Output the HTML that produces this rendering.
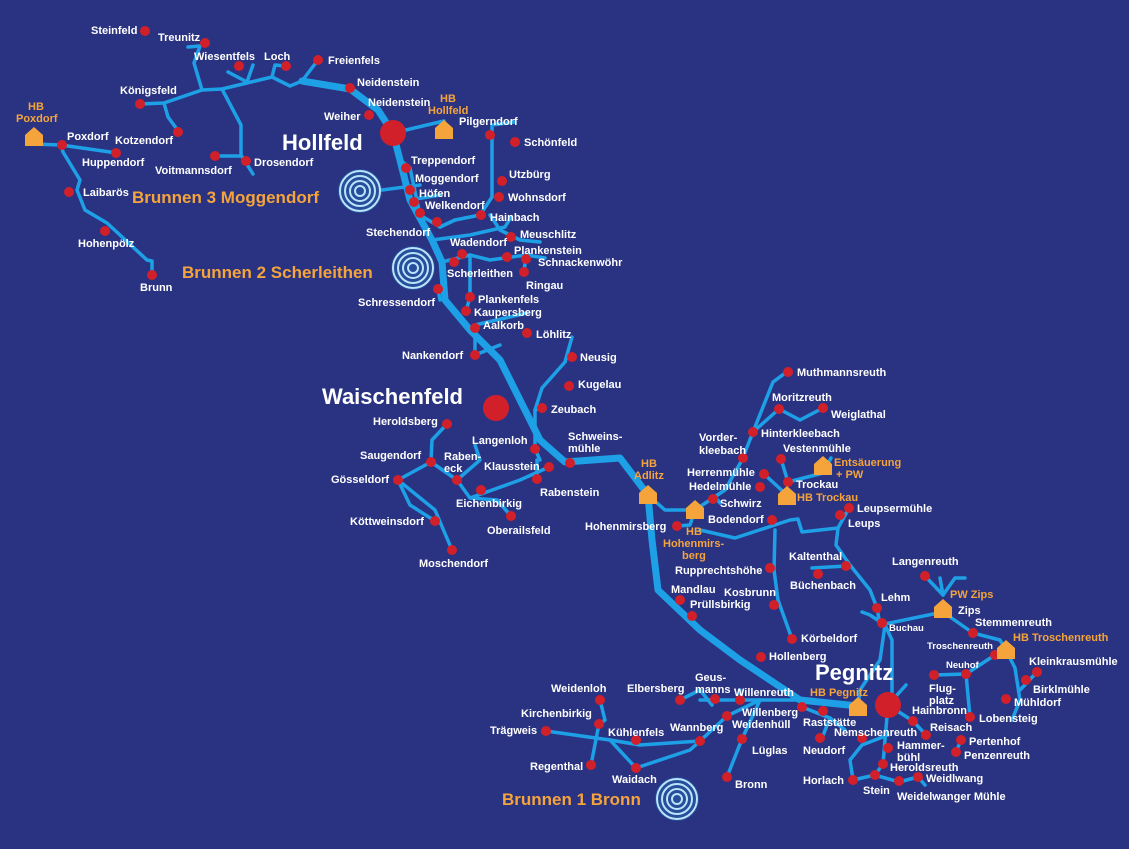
<!DOCTYPE html>
<html><head><meta charset="utf-8"><style>
html,body{margin:0;padding:0;background:#2a3382;}
svg{display:block}
.t{font-family:"Liberation Sans",sans-serif;font-weight:bold;font-size:11px;fill:#fff}
.s{font-size:9.5px}
.o{fill:#f5a43c}
.big{font-size:22px}
.br{font-size:17px;fill:#f5a43c}
.l{fill:none;stroke:#1ea0e6;stroke-width:3.5;stroke-linejoin:round;stroke-linecap:round}
.m{fill:none;stroke:#1ea0e6;stroke-width:7;stroke-linejoin:round;stroke-linecap:round}
circle.d{fill:#d2202a}
</style></head><body>
<svg width="1129" height="849" viewBox="0 0 1129 849" xmlns="http://www.w3.org/2000/svg">
<rect width="1129" height="849" fill="#2a3382"/>
<defs>
<g id="hs"><path d="M-9,-2 L0,-10 L9,-2 L9,9 L-9,9Z" fill="#f5a43c"/></g>
<g id="tg"><circle r="22" fill="#1ea0e6" opacity=".25"/><circle r="20" fill="none" stroke="#b9e4fa" stroke-width="2"/><circle r="15" fill="none" stroke="#b9e4fa" stroke-width="2"/><circle r="10" fill="none" stroke="#b9e4fa" stroke-width="2"/><circle r="5" fill="none" stroke="#b9e4fa" stroke-width="2"/></g>
</defs>
<!-- main trunk -->
<polyline class="m" points="302,81 350,89 378,110 393,133 400,160 410,200 432,240 442,262 445,300 470,330 500,360 520,400 540,440 565,462 620,458 648,495 652,540 658,590 700,630 740,660 800,700 858,706"/>
<!-- NW network -->
<polyline class="l" points="33,144 61,145 117,153"/>
<polyline class="l" points="61,145 63,152 80,180 77,190 85,210 107,223 147,260 152,261 152,275"/>
<polyline class="l" points="140,104 164,103 202,90 222,89 272,77 290,86 302,81 318,60"/>
<polyline class="l" points="164,103 168,117 179,132"/>
<polyline class="l" points="202,90 194,63 200,46 188,47"/>
<polyline class="l" points="222,89 241,125 241,155 253,174"/>
<polyline class="l" points="215,156 241,156"/>
<polyline class="l" points="228,72 247,82 253,65"/>
<polyline class="l" points="272,77 275,65 286,66"/>
<polyline class="l" points="393,133 444,121"/>
<polyline class="l" points="515,122 492,125 492,197 480,215 455,220 440,227"/>
<polyline class="l" points="400,160 410,168 420,215 440,227 455,220"/>
<polyline class="l" points="382,190 420,185"/>
<polyline class="l" points="410,200 440,195"/>
<polyline class="l" points="432,240 470,235 505,227 511,217"/>
<polyline class="l" points="490,215 500,230 520,240 540,242"/>
<polyline class="l" points="442,262 470,255 490,260 526,255 545,258"/>
<polyline class="l" points="470,255 470,297 466,311"/>
<polyline class="l" points="526,255 524,272"/>
<polyline class="l" points="475,325 527,313"/>
<polyline class="l" points="475,335 475,355 500,345"/>
<polyline class="l" points="440,300 438,289"/>
<!-- Waischenfeld area -->
<polyline class="l" points="572,337 565,362 542,388 535,410 535,449 540,460"/>
<polyline class="l" points="535,410 542,408"/>
<polyline class="l" points="447,424 432,440 431,462 398,480 435,510 452,550"/>
<polyline class="l" points="431,462 457,480 470,498 497,500 511,516"/>
<polyline class="l" points="457,480 480,460 475,445"/>
<polyline class="l" points="470,498 520,480 549,467"/>
<polyline class="l" points="537,479 537,460"/>
<polyline class="l" points="398,480 410,505 435,521"/>
<!-- Adlitz / Trockau -->
<polyline class="l" points="648,495 665,510 695,510 690,525 677,526"/>
<polyline class="l" points="695,510 725,490 742,460 753,432 773,382 788,371"/>
<polyline class="l" points="753,432 779,409 800,420 823,408"/>
<polyline class="l" points="700,530 735,538 790,520 798,519 802,532 838,528 849,508"/>
<polyline class="l" points="715,497 720,503"/>
<polyline class="l" points="764,474 788,496"/>
<polyline class="l" points="781,459 788,482 823,473 831,458"/>
<polyline class="l" points="775,530 774,570 778,600 792,639"/>
<polyline class="l" points="838,528 836,545 850,565 870,590 877,608 880,625"/>
<polyline class="l" points="812,568 846,566"/>
<polyline class="l" points="880,625 943,612"/>
<polyline class="l" points="925,576 943,595 955,578 965,578"/>
<polyline class="l" points="943,595 940,578"/>
<polyline class="l" points="943,612 973,633 1000,640 1006,650"/>
<polyline class="l" points="1006,650 995,655 966,674 934,675"/>
<polyline class="l" points="966,674 970,717"/>
<polyline class="l" points="1006,650 1015,668 1020,700 1012,720"/>
<polyline class="l" points="1020,690 1037,672"/>
<polyline class="l" points="862,612 870,615 885,625 880,660 860,690 858,706"/>
<polyline class="l" points="885,625 892,640 892,700 888,705"/>
<!-- Pegnitz area -->
<polyline class="l" points="888,705 913,721 926,735"/>
<polyline class="l" points="888,705 906,685"/>
<polyline class="l" points="888,705 885,740 883,764 875,775 853,780 850,760 862,745 888,735"/>
<polyline class="l" points="875,775 899,782 918,777 925,785"/>
<polyline class="l" points="961,740 956,752"/>
<polyline class="l" points="802,707 830,718 822,738"/>
<polyline class="l" points="830,718 845,730"/>
<polyline class="l" points="800,700 760,700 740,700 700,700"/>
<polyline class="l" points="760,700 727,716 700,741 690,750 636,768"/>
<polyline class="l" points="760,700 742,739 727,777"/>
<polyline class="l" points="546,731 610,740 636,768"/>
<polyline class="l" points="600,700 605,720 599,724 591,765"/>
<polyline class="l" points="610,740 640,745 700,741"/>
<polyline class="l" points="680,700 700,690 712,705"/>
<polyline class="l" points="740,690 740,700"/>
<!-- dots -->
<g>
<circle class="d" cx="145" cy="31" r="5"/><circle class="d" cx="205" cy="43" r="5"/><circle class="d" cx="239" cy="66" r="5"/><circle class="d" cx="286" cy="66" r="5"/><circle class="d" cx="318" cy="60" r="5"/><circle class="d" cx="350" cy="88" r="5"/><circle class="d" cx="140" cy="104" r="5"/><circle class="d" cx="369" cy="115" r="5"/><circle class="d" cx="178" cy="132" r="5"/><circle class="d" cx="62" cy="145" r="5"/><circle class="d" cx="116" cy="153" r="5"/><circle class="d" cx="215" cy="156" r="5"/><circle class="d" cx="246" cy="161" r="5"/><circle class="d" cx="69" cy="192" r="5"/><circle class="d" cx="105" cy="231" r="5"/><circle class="d" cx="152" cy="275" r="5"/>
<circle class="d" cx="490" cy="135" r="5"/><circle class="d" cx="515" cy="142" r="5"/><circle class="d" cx="406" cy="168" r="5"/><circle class="d" cx="410" cy="190" r="5"/><circle class="d" cx="414" cy="202" r="5"/><circle class="d" cx="420" cy="213" r="5"/><circle class="d" cx="502" cy="181" r="5"/><circle class="d" cx="499" cy="197" r="5"/><circle class="d" cx="481" cy="215" r="5"/><circle class="d" cx="437" cy="222" r="5"/><circle class="d" cx="511" cy="237" r="5"/><circle class="d" cx="462" cy="254" r="5"/><circle class="d" cx="507" cy="257" r="5"/><circle class="d" cx="526" cy="259" r="5"/><circle class="d" cx="454" cy="262" r="5"/><circle class="d" cx="524" cy="272" r="5"/><circle class="d" cx="438" cy="289" r="5"/><circle class="d" cx="470" cy="297" r="5"/><circle class="d" cx="466" cy="311" r="5"/><circle class="d" cx="475" cy="328" r="5"/><circle class="d" cx="527" cy="333" r="5"/><circle class="d" cx="475" cy="355" r="5"/>
<circle class="d" cx="572" cy="357" r="5"/><circle class="d" cx="569" cy="386" r="5"/><circle class="d" cx="542" cy="408" r="5"/><circle class="d" cx="447" cy="424" r="5"/><circle class="d" cx="535" cy="449" r="5"/><circle class="d" cx="570" cy="463" r="5"/><circle class="d" cx="431" cy="462" r="5"/><circle class="d" cx="457" cy="480" r="5"/><circle class="d" cx="549" cy="467" r="5"/><circle class="d" cx="398" cy="480" r="5"/><circle class="d" cx="537" cy="479" r="5"/><circle class="d" cx="481" cy="490" r="5"/><circle class="d" cx="511" cy="516" r="5"/><circle class="d" cx="435" cy="521" r="5"/><circle class="d" cx="452" cy="550" r="5"/>
<circle class="d" cx="677" cy="526" r="5"/><circle class="d" cx="788" cy="372" r="5"/><circle class="d" cx="779" cy="409" r="5"/><circle class="d" cx="823" cy="408" r="5"/><circle class="d" cx="753" cy="432" r="5"/><circle class="d" cx="743" cy="458" r="5"/><circle class="d" cx="781" cy="459" r="5"/><circle class="d" cx="764" cy="474" r="5"/><circle class="d" cx="760" cy="487" r="5"/><circle class="d" cx="788" cy="482" r="5"/><circle class="d" cx="713" cy="499" r="5"/><circle class="d" cx="849" cy="508" r="5"/><circle class="d" cx="772" cy="520" r="5"/><circle class="d" cx="840" cy="515" r="5"/><circle class="d" cx="846" cy="566" r="5"/><circle class="d" cx="770" cy="568" r="5"/><circle class="d" cx="818" cy="574" r="5"/><circle class="d" cx="925" cy="576" r="5"/><circle class="d" cx="680" cy="600" r="5"/><circle class="d" cx="774" cy="605" r="5"/><circle class="d" cx="692" cy="616" r="5"/><circle class="d" cx="877" cy="608" r="5"/><circle class="d" cx="882" cy="623" r="5"/><circle class="d" cx="973" cy="633" r="5"/><circle class="d" cx="792" cy="639" r="5"/><circle class="d" cx="995" cy="655" r="5"/><circle class="d" cx="761" cy="657" r="5"/><circle class="d" cx="966" cy="674" r="5"/><circle class="d" cx="1037" cy="672" r="5"/><circle class="d" cx="934" cy="675" r="5"/><circle class="d" cx="1026" cy="680" r="5"/><circle class="d" cx="680" cy="700" r="5"/><circle class="d" cx="600" cy="700" r="5"/><circle class="d" cx="740" cy="700" r="5"/><circle class="d" cx="715" cy="699" r="5"/><circle class="d" cx="727" cy="716" r="5"/><circle class="d" cx="1006" cy="699" r="5"/><circle class="d" cx="913" cy="721" r="5"/><circle class="d" cx="599" cy="724" r="5"/><circle class="d" cx="802" cy="707" r="5"/><circle class="d" cx="823" cy="711" r="5"/><circle class="d" cx="820" cy="738" r="5"/><circle class="d" cx="970" cy="717" r="5"/><circle class="d" cx="926" cy="735" r="5"/><circle class="d" cx="636" cy="740" r="5"/><circle class="d" cx="546" cy="731" r="5"/><circle class="d" cx="700" cy="741" r="5"/><circle class="d" cx="862" cy="738" r="5"/><circle class="d" cx="888" cy="748" r="5"/><circle class="d" cx="961" cy="740" r="5"/><circle class="d" cx="742" cy="739" r="5"/><circle class="d" cx="956" cy="752" r="5"/><circle class="d" cx="636" cy="768" r="5"/><circle class="d" cx="591" cy="765" r="5"/><circle class="d" cx="883" cy="764" r="5"/><circle class="d" cx="727" cy="777" r="5"/><circle class="d" cx="853" cy="780" r="5"/><circle class="d" cx="875" cy="775" r="5"/><circle class="d" cx="918" cy="777" r="5"/><circle class="d" cx="899" cy="781" r="5"/>
<circle class="d" cx="393" cy="133" r="13"/><circle class="d" cx="496" cy="408" r="13"/><circle class="d" cx="888" cy="705" r="13"/>
</g>
<use href="#tg" x="360" y="191"/><use href="#tg" x="413" y="268"/><use href="#tg" x="677" y="799"/>
<use href="#hs" x="34" y="137"/><use href="#hs" x="444" y="130"/><use href="#hs" x="648" y="495"/><use href="#hs" x="695" y="510"/><use href="#hs" x="823" y="466"/><use href="#hs" x="787" y="496"/><use href="#hs" x="943" y="609"/><use href="#hs" x="1006" y="650"/><use href="#hs" x="858" y="707"/>
<!-- labels -->
<g class="t">
<text x="91" y="34">Steinfeld</text><text x="158" y="41">Treunitz</text><text x="194" y="60">Wiesentfels</text><text x="264" y="60">Loch</text><text x="328" y="64">Freienfels</text><text x="357" y="86">Neidenstein</text><text x="120" y="94">Königsfeld</text><text x="368" y="106">Neidenstein</text><text x="324" y="120">Weiher</text>
<text x="67" y="140">Poxdorf</text><text x="115" y="144">Kotzendorf</text><text x="82" y="166">Huppendorf</text><text x="155" y="174">Voitmannsdorf</text><text x="254" y="166">Drosendorf</text><text x="83" y="196">Laibarös</text><text x="78" y="247">Hohenpölz</text><text x="140" y="291">Brunn</text>
<text x="459" y="125">Pilgerndorf</text><text x="524" y="146">Schönfeld</text><text x="411" y="164">Treppendorf</text><text x="415" y="182">Moggendorf</text><text x="419" y="197">Höfen</text><text x="425" y="209">Welkendorf</text><text x="509" y="178">Utzbürg</text><text x="508" y="201">Wohnsdorf</text><text x="490" y="221">Hainbach</text><text x="366" y="236">Stechendorf</text><text x="520" y="238">Meuschlitz</text><text x="450" y="246">Wadendorf</text><text x="514" y="254">Plankenstein</text><text x="538" y="266">Schnackenwöhr</text><text x="447" y="277">Scherleithen</text><text x="526" y="289">Ringau</text><text x="358" y="306">Schressendorf</text><text x="478" y="303">Plankenfels</text><text x="474" y="316">Kaupersberg</text><text x="483" y="329">Aalkorb</text><text x="536" y="338">Löhlitz</text><text x="402" y="359">Nankendorf</text>
<text x="580" y="361">Neusig</text><text x="578" y="388">Kugelau</text><text x="551" y="413">Zeubach</text><text x="373" y="425">Heroldsberg</text><text x="472" y="444">Langenloh</text><text x="568" y="440">Schweins-</text><text x="568" y="452">mühle</text><text x="360" y="459">Saugendorf</text><text x="444" y="460">Raben-</text><text x="444" y="472">eck</text><text x="484" y="470">Klausstein</text><text x="331" y="483">Gösseldorf</text><text x="540" y="496">Rabenstein</text><text x="456" y="507">Eichenbirkig</text><text x="487" y="534">Oberailsfeld</text><text x="350" y="525">Köttweinsdorf</text><text x="419" y="567">Moschendorf</text>
<text x="585" y="530">Hohenmirsberg</text><text x="797" y="376">Muthmannsreuth</text><text x="772" y="401">Moritzreuth</text><text x="831" y="418">Weiglathal</text><text x="761" y="437">Hinterkleebach</text><text x="699" y="441">Vorder-</text><text x="699" y="454">kleebach</text><text x="783" y="452">Vestenmühle</text><text x="687" y="476">Herrenmühle</text><text x="689" y="490">Hedelmühle</text><text x="796" y="488">Trockau</text><text x="720" y="507">Schwirz</text><text x="857" y="512">Leupsermühle</text><text x="708" y="523">Bodendorf</text><text x="848" y="527">Leups</text><text x="789" y="560">Kaltenthal</text><text x="675" y="574">Rupprechtshöhe</text><text x="790" y="589">Büchenbach</text><text x="892" y="565">Langenreuth</text><text x="671" y="593">Mandlau</text><text x="724" y="596">Kosbrunn</text><text x="690" y="608">Prüllsbirkig</text><text x="881" y="601">Lehm</text><text x="958" y="614">Zips</text><text x="975" y="626">Stemmenreuth</text><text x="801" y="642">Körbeldorf</text><text x="769" y="660">Hollenberg</text><text x="1029" y="665">Kleinkrausmühle</text><text x="929" y="692">Flug-</text><text x="929" y="704">platz</text><text x="1033" y="693">Birklmühle</text><text x="695" y="681">Geus-</text><text x="695" y="693">manns</text><text x="627" y="692">Elbersberg</text><text x="551" y="692">Weidenloh</text><text x="734" y="696">Willenreuth</text><text x="742" y="716">Willenberg</text><text x="1014" y="706">Mühldorf</text><text x="912" y="714">Hainbronn</text><text x="521" y="717">Kirchenbirkig</text><text x="732" y="728">Weidenhüll</text><text x="803" y="726">Raststätte</text><text x="979" y="722">Lobensteig</text><text x="930" y="731">Reisach</text><text x="608" y="736">Kühlenfels</text><text x="490" y="734">Trägweis</text><text x="670" y="731">Wannberg</text><text x="834" y="736">Nemschenreuth</text><text x="897" y="749">Hammer-</text><text x="897" y="761">bühl</text><text x="969" y="745">Pertenhof</text><text x="752" y="754">Lüglas</text><text x="803" y="754">Neudorf</text><text x="964" y="759">Penzenreuth</text><text x="612" y="783">Waidach</text><text x="530" y="770">Regenthal</text><text x="890" y="771">Heroldsreuth</text><text x="735" y="788">Bronn</text><text x="803" y="784">Horlach</text><text x="863" y="794">Stein</text><text x="926" y="782">Weidlwang</text><text x="897" y="800">Weidelwanger Mühle</text>
<text class="s" x="889" y="631">Buchau</text><text class="s" x="927" y="649">Troschenreuth</text><text class="s" x="946" y="668">Neuhof</text>
<text class="o" x="28" y="110">HB</text><text class="o" x="16" y="122">Poxdorf</text><text class="o" x="440" y="102">HB</text><text class="o" x="428" y="114">Hollfeld</text><text class="o" x="641" y="467">HB</text><text class="o" x="634" y="479">Adlitz</text><text class="o" x="686" y="535">HB</text><text class="o" x="663" y="547">Hohenmirs-</text><text class="o" x="682" y="559">berg</text><text class="o" x="834" y="466">Entsäuerung</text><text class="o" x="836" y="478">+ PW</text><text class="o" x="797" y="501">HB Trockau</text><text class="o" x="950" y="598">PW Zips</text><text class="o" x="1013" y="641">HB Troschenreuth</text><text class="o" x="810" y="696">HB Pegnitz</text>
<text class="big" x="282" y="150">Hollfeld</text><text class="big" x="322" y="404">Waischenfeld</text><text class="big" x="815" y="680">Pegnitz</text>
<text class="br" x="132" y="203">Brunnen 3 Moggendorf</text><text class="br" x="182" y="278">Brunnen 2 Scherleithen</text><text class="br" x="502" y="805">Brunnen 1 Bronn</text>
</g>
</svg>
</body></html>
